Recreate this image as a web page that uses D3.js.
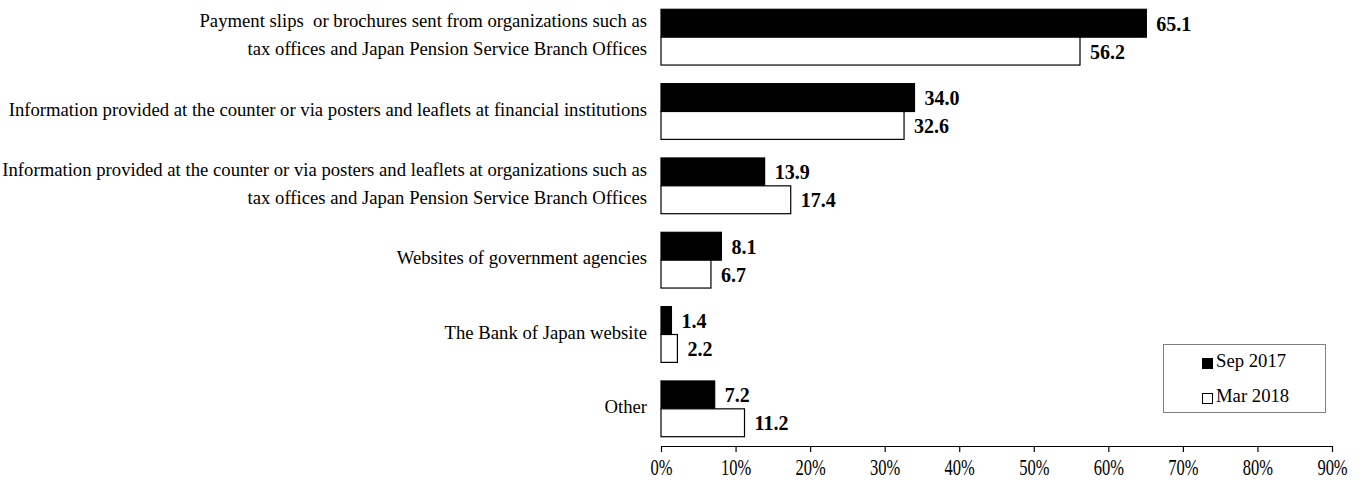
<!DOCTYPE html>
<html>
<head>
<meta charset="utf-8">
<script src="https://cdn.jsdelivr.net/npm/d3@7/dist/d3.min.js"></script>
<style>
  html, body { margin: 0; padding: 0; background: #fff; }
  svg { display: block; }
  text { font-family: "Liberation Serif", "Times New Roman", serif; fill: #000; white-space: pre; }
</style>
</head>
<body>
<svg id="chart" width="1363" height="480"></svg>
<script>
// Categories (each label split into its display lines)
const categories = [
  ["Payment slips  or brochures sent from organizations such as", "tax offices and Japan Pension Service Branch Offices"],
  ["Information provided at the counter or via posters and leaflets at financial institutions"],
  ["Information provided at the counter or via posters and leaflets at organizations such as", "tax offices and Japan Pension Service Branch Offices"],
  ["Websites of government agencies"],
  ["The Bank of Japan website"],
  ["Other"]
];
const seriesNames = ["Sep 2017", "Mar 2018"];
const sep2017 = [65.1, 34.0, 13.9, 8.1, 1.4, 7.2];
const mar2018 = [56.2, 32.6, 17.4, 6.7, 2.2, 11.2];
const xTicks = [0, 10, 20, 30, 40, 50, 60, 70, 80, 90];

const svg = d3.select("#chart");
const plotLeft = 661, plotRight = 1332, plotTop = 0, axisY = 446;

const keys = categories.map((c, i) => "c" + i);
const x = d3.scaleLinear().domain([0, 90]).range([plotLeft, plotRight]);
const y = d3.scaleBand().domain(keys).range([plotTop, axisY]).paddingInner(0.25).paddingOuter(0.125);
const sub = d3.scaleBand().domain(seriesNames).range([0, y.bandwidth()]);

const series = [
  { name: seriesNames[0], values: sep2017, fill: "#000" },
  { name: seriesNames[1], values: mar2018, fill: "#fff" }
];

// Bars with bold value labels
series.forEach(s => {
  const g = svg.append("g");
  g.selectAll("rect").data(s.values).join("rect")
    .attr("x", x(0))
    .attr("y", (d, i) => y(keys[i]) + sub(s.name))
    .attr("width", d => x(d) - x(0))
    .attr("height", sub.bandwidth())
    .attr("fill", s.fill)
    .attr("stroke", "#000")
    .attr("stroke-width", 1.2);
  g.selectAll("text").data(s.values).join("text")
    .attr("x", d => x(d) + 10)
    .attr("y", (d, i) => y(keys[i]) + sub(s.name) + sub.bandwidth() / 2 + 3)
    .attr("dominant-baseline", "middle")
    .attr("font-size", 20)
    .attr("font-weight", "bold")
    .text(d => d.toFixed(1));
});

// Category labels
const catG = svg.append("g");
categories.forEach((lines, i) => {
  const cy = y(keys[i]) + y.bandwidth() / 2;
  const lh = 28;
  const t = catG.append("text")
    .attr("text-anchor", "end")
    .attr("font-size", 18.7);
  lines.forEach((ln, j) => {
    t.append("tspan")
      .attr("x", 647)
      .attr("y", cy + (j - (lines.length - 1) / 2) * lh)
      .attr("dominant-baseline", "middle")
      .text(ln);
  });
});

// X axis
const axis = d3.axisBottom(x).tickValues(xTicks).tickFormat(d => d + "%").tickSize(6).tickSizeOuter(0);
const ax = svg.append("g").attr("transform", `translate(0,${axisY})`).call(axis);
ax.select(".domain").attr("stroke", "#000").attr("stroke-width", 1.2);
ax.selectAll(".tick line").attr("stroke", "#000").attr("stroke-width", 1.2);
ax.selectAll(".tick text")
  .attr("font-family", "Liberation Serif, Times New Roman, serif")
  .attr("font-size", 16.5)
  .attr("fill", "#000")
  .attr("y", 0)
  .attr("dy", null)
  .attr("dominant-baseline", "middle")
  .attr("transform", "translate(0,24) scale(1,1.4)");

// Legend
const lg = svg.append("g");
lg.append("rect").attr("x", 1163.5).attr("y", 344.5).attr("width", 162).attr("height", 68)
  .attr("fill", "#fff").attr("stroke", "#808080").attr("stroke-width", 1);
series.forEach((s, i) => {
  const ly = 363 + i * 35;
  lg.append("rect").attr("x", 1202.5).attr("y", ly - 4.5).attr("width", 10).attr("height", 10)
    .attr("fill", s.fill).attr("stroke", "#000").attr("stroke-width", 1);
  lg.append("text").attr("x", 1216).attr("y", ly).attr("dominant-baseline", "middle")
    .attr("font-size", 18.7).text(s.name);
});
</script>
</body>
</html>
